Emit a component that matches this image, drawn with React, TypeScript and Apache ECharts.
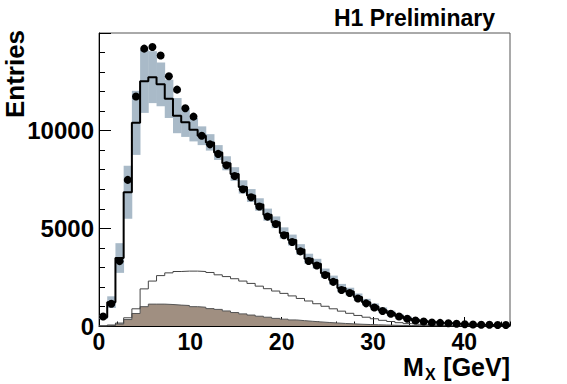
import React, { useEffect, useRef } from "react";
import * as echarts from "echarts";

// Bin layout (GeV)
const BIN_WIDTH = 0.9;
const X_MIN = 0;
const X_MAX = 45;
const Y_MAX = 15000;
const X_MAJOR = 10;
const X_MINOR = 2;
const Y_MAJOR = 5000;

// Data points (black dots)
const dataEntries = [
  490, 1140, 3320, 7480, 11750, 14200, 14280, 13850, 12790, 12100,
  11150, 10720, 9740, 9300, 8810, 8230, 7680, 7000, 6590, 6120,
  5600, 5220, 4650, 4300, 3820, 3330, 3100, 2610, 2260, 1840,
  1690, 1410, 1160, 950, 770, 630, 490, 370, 285, 230,
  180, 160, 140, 115, 90, 75, 65, 60, 55, 50,
];

// Total MC (black step line)
const mcTotal = [
  450, 1220, 3480, 6850, 10400, 12530, 12740, 12370, 11630, 10770,
  10430, 10050, 9740, 9400, 8880, 8330, 7780, 7120, 6680, 6220,
  5700, 5310, 4760, 4400, 3920, 3440, 3190, 2700, 2350, 1940,
  1760, 1480, 1220, 1000, 810, 660, 510, 390, 300, 240,
  190, 160, 135, 110, 90, 75, 60, 50, 45, 40,
];

// MC systematic uncertainty (grey band half-width)
const mcError = [
  90, 300, 760, 1360, 1640, 1620, 1330, 1120, 980, 900,
  750, 600, 480, 420, 380, 360, 350, 340, 330, 320,
  310, 300, 290, 280, 270, 260, 250, 240, 230, 215,
  200, 185, 170, 155, 140, 125, 110, 95, 80, 70,
  60, 50, 45, 40, 35, 30, 25, 20, 18, 15,
];

// Open (white) histogram component
const mcOpen = [
  0, 50, 150, 420, 880, 1900, 2300, 2580, 2720, 2790,
  2810, 2810, 2790, 2740, 2620, 2530, 2420, 2300, 2180, 2040,
  1910, 1790, 1670, 1540, 1410, 1280, 1140, 1010, 880, 760,
  650, 540, 450, 370, 290, 230, 170, 120, 85, 60,
  40, 30, 20, 15, 10, 8, 6, 5, 4, 3,
];

// Filled (brown) histogram component
const mcFilled = [
  0, 20, 100, 330, 640, 990, 1120, 1120, 1100, 1070,
  1050, 990, 960, 890, 850, 770, 690, 620, 560, 500,
  450, 390, 350, 310, 275, 240, 210, 180, 155, 130,
  110, 90, 75, 60, 50, 40, 30, 25, 20, 15,
  10, 8, 6, 5, 4, 3, 2, 2, 1, 1,
];

const FONT = "'Liberation Sans', Arial, Helvetica, sans-serif";

function stepPoints(values: number[], closeToZero: boolean) {
  const pts: number[][] = [];
  if (closeToZero) pts.push([0, 0]);
  values.forEach((v, i) => {
    pts.push([i * BIN_WIDTH, v]);
    pts.push([(i + 1) * BIN_WIDTH, v]);
  });
  if (closeToZero) pts.push([values.length * BIN_WIDTH, 0]);
  return pts;
}

function txt(x: number, y: number, text: string, size: number, align: string, extra: any = {}) {
  return {
    type: "text",
    x,
    y,
    ...extra,
    style: {
      text,
      font: `bold ${size}px ${FONT}`,
      fill: "#000",
      textAlign: align,
      textVerticalAlign: "middle",
      align,
      verticalAlign: "middle",
    },
  };
}

export default function App() {
  const ref = useRef<HTMLDivElement>(null);

  useEffect(() => {
    if (!ref.current) return;
    const chart = echarts.init(ref.current, undefined, { renderer: "svg" });

    const bandData = mcTotal.map((v, i) => [
      i * BIN_WIDTH,
      (i + 1) * BIN_WIDTH,
      v - mcError[i],
      v + mcError[i],
    ]);
    const dots = dataEntries.map((v, i) => [(i + 0.5) * BIN_WIDTH, v]);

    const labelStyle = {
      fontFamily: FONT,
      fontWeight: "bold" as const,
      fontSize: 24,
      color: "#000",
    };

    chart.setOption({
      animation: false,
      grid: {
        left: 99,
        right: 57,
        top: 33,
        bottom: 58,
        show: true,
        borderColor: "#555",
        borderWidth: 1,
        backgroundColor: "transparent",
      },
      xAxis: [
        {
          type: "value",
          min: X_MIN,
          max: X_MAX,
          interval: X_MAJOR,
          axisLine: { show: true, lineStyle: { color: "#000", width: 1 } },
          axisTick: { show: true, inside: true, length: 9, lineStyle: { color: "#000" } },
          axisLabel: { ...labelStyle, fontSize: 23, lineHeight: 23, margin: 4, showMaxLabel: false },
          splitLine: { show: false },
        },
        {
          type: "value",
          position: "bottom",
          min: X_MIN,
          max: X_MAX,
          interval: X_MINOR,
          axisLine: { show: false },
          axisTick: { show: true, inside: true, length: 4.5, lineStyle: { color: "#000" } },
          axisLabel: { show: false },
          splitLine: { show: false },
        },
      ],
      yAxis: {
        type: "value",
        min: 0,
        max: Y_MAX,
        interval: Y_MAJOR,
        axisLine: { show: true, lineStyle: { color: "#000", width: 1 } },
        axisTick: { show: true, inside: true, length: 12, lineStyle: { color: "#000" } },
        minorTick: { show: true, splitNumber: 5, length: 6, lineStyle: { color: "#000" } },
        axisLabel: {
          ...labelStyle,
          margin: 5,
          showMaxLabel: false,
          formatter: (v: number) => String(v),
        },
        splitLine: { show: false },
        minorSplitLine: { show: false },
      },
      series: [
        {
          type: "custom",
          name: "band",
          xAxisIndex: 0,
          data: bandData,
          z: 1,
          renderItem: (params: any, api: any) => {
            const p0 = api.coord([api.value(0), api.value(3)]);
            const p1 = api.coord([api.value(1), api.value(2)]);
            return {
              type: "rect",
              shape: {
                x: p0[0],
                y: p0[1],
                width: p1[0] - p0[0] + 0.4,
                height: p1[1] - p0[1],
              },
              style: { fill: "#a9bac8", stroke: null },
            };
          },
        },
        {
          type: "line",
          name: "filled",
          xAxisIndex: 0,
          data: stepPoints(mcFilled, true),
          showSymbol: false,
          symbol: "none",
          z: 2,
          lineStyle: { color: "#555", width: 1 },
          areaStyle: { color: "#a08f81", opacity: 1, origin: "start" },
        },
        {
          type: "line",
          name: "open",
          xAxisIndex: 0,
          data: stepPoints(mcOpen, true),
          showSymbol: false,
          symbol: "none",
          z: 3,
          lineStyle: { color: "#444", width: 1 },
        },
        {
          type: "line",
          name: "mc",
          xAxisIndex: 0,
          data: stepPoints(mcTotal, false),
          showSymbol: false,
          symbol: "none",
          z: 4,
          lineStyle: { color: "#000", width: 2 },
        },
        {
          type: "scatter",
          name: "data",
          xAxisIndex: 0,
          data: dots,
          symbol: "circle",
          symbolSize: 8,
          z: 5,
          itemStyle: { color: "#000", opacity: 1 },
        },
      ],
      graphic: [
        txt(495, 18, "H1 Preliminary", 23, "right"),
        txt(15, 74, "Entries", 26, "center", { rotation: Math.PI / 2 }),
        txt(403, 367, "M", 25, "left"),
        txt(425, 374, "X", 16, "left"),
        txt(510, 367, "[GeV]", 25, "right"),
      ],
    });

    return () => chart.dispose();
  }, []);

  return (
    <div
      ref={ref}
      style={{ position: "absolute", left: 0, top: 0, width: 567, height: 384, background: "#fff" }}
    />
  );
}
